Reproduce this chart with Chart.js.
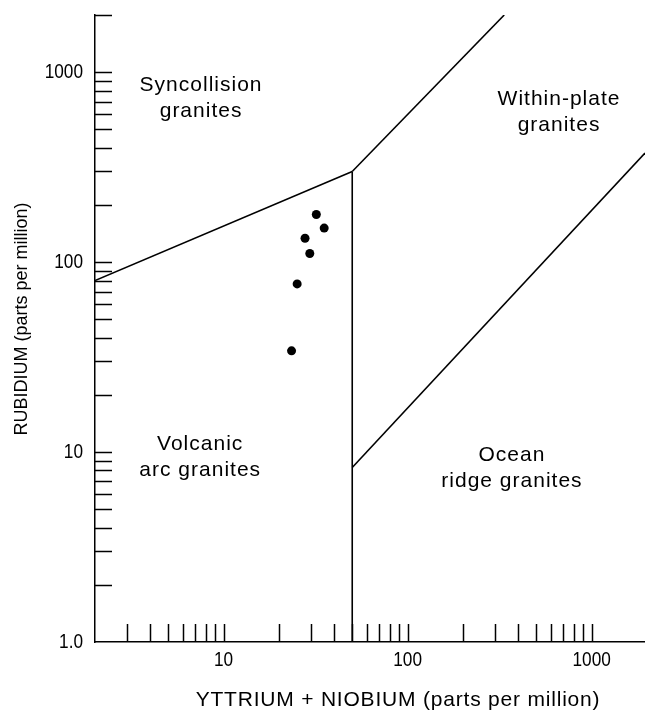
<!DOCTYPE html>
<html>
<head>
<meta charset="utf-8">
<script src="https://cdn.jsdelivr.net/npm/chart.js@4"></script>
<style>
  html, body { margin: 0; padding: 0; background: #fff; }
  #wrap { width: 645px; height: 711px; position: relative; }
</style>
</head>
<body>
<div id="wrap"><canvas id="rbChart"></canvas></div>
<script>
// Rb vs (Y + Nb) granite discrimination diagram, log-log

// --- samples ---
const sampleYNb = [31.9, 35.2, 27.7, 29.4, 25.1, 23.4];
const sampleRb  = [178, 151, 133.5, 111, 76.8, 34.1];

// --- field boundaries, [Y+Nb, Rb] pairs ---
const syncolVagLine = [[2, 80], [50, 300]];
const syncolWpgLine = [[50, 300], [335, 2000]];
const vagOrgLine    = [[50, 1], [50, 300]];
const wpgOrgLine    = [[50, 8.3], [1950, 375]];

// --- axes ---
const xRange = [2, 1950];
const yRange = [1, 2000];
const xLabelTicks = [10, 100, 1000];
const yLabelTicks = [1, 10, 100, 1000];
const xTickMarks = [3, 4, 5, 6, 7, 8, 9, 10, 20, 30, 40, 50, 60, 70, 80, 90, 100,
                    200, 300, 400, 500, 600, 700, 800, 900, 1000];
const yTickMarks = [2, 3, 4, 5, 6, 7, 8, 9, 10, 20, 30, 40, 50, 60, 70, 80, 90, 100,
                    200, 300, 400, 500, 600, 700, 800, 900, 1000, 2000];

// --- field names (anchored at Y+Nb, Rb) ---
const fieldNames = [
  { lines: ['Syncollision', 'granites'], x: 7.54, y: 728 },
  { lines: ['Within-plate', 'granites'], x: 665, y: 618 },
  { lines: ['Volcanic', 'arc granites'], x: 7.46, y: 9.42 },
  { lines: ['Ocean', 'ridge granites'], x: 369, y: 8.25 }
];
const xTitle = 'YTTRIUM + NIOBIUM (parts per million)';
const yTitle = 'RUBIDIUM (parts per million)';

const INK = '#000';
const plain = '"Liberation Sans", Arial, sans-serif';

const toPts = arr => arr.map(([x, y]) => ({ x, y }));
const boundary = arr => ({
  data: toPts(arr), showLine: true, borderColor: INK, borderWidth: 1.6,
  pointRadius: 0, fill: false, tension: 0
});
const tickText = v => v === 1 ? '1.0' : String(v);

// condensed label: the original uses a narrow face
function narrowText(ctx, text, x, y, align) {
  ctx.save();
  ctx.translate(x, y);
  ctx.scale(0.82, 1);
  ctx.textAlign = align;
  ctx.fillText(text, 0, 0);
  ctx.restore();
}

const overlay = {
  id: 'overlay',
  afterDatasetsDraw(chart) {
    const { ctx, chartArea: a, scales: { x, y } } = chart;
    ctx.save();
    ctx.strokeStyle = INK;
    ctx.lineWidth = 1.5;
    ctx.beginPath();
    xTickMarks.forEach(v => {
      const px = Math.round(x.getPixelForValue(v)) + 0.5;
      ctx.moveTo(px, a.bottom);
      ctx.lineTo(px, a.bottom - 18);
    });
    yTickMarks.forEach(v => {
      const py = Math.round(y.getPixelForValue(v)) + 0.5;
      ctx.moveTo(a.left, py);
      ctx.lineTo(a.left + 17, py);
    });
    ctx.stroke();

    // tick labels
    ctx.fillStyle = INK;
    ctx.font = '21px ' + plain;
    ctx.textBaseline = 'middle';
    xLabelTicks.forEach(v => narrowText(ctx, tickText(v), x.getPixelForValue(v), a.bottom + 18, 'center'));
    yLabelTicks.forEach(v => narrowText(ctx, tickText(v), a.left - 12, y.getPixelForValue(v), 'right'));

    // field names
    ctx.font = '21px ' + plain;
    if ('letterSpacing' in ctx) ctx.letterSpacing = '1px';
    ctx.textAlign = 'center';
    fieldNames.forEach(f => {
      const cx = x.getPixelForValue(f.x);
      const cy = y.getPixelForValue(f.y);
      f.lines.forEach((t, i) => {
        ctx.fillText(t, cx, cy + (i - (f.lines.length - 1) / 2) * 26);
      });
    });

    // axis titles
    ctx.letterSpacing = '0.8px';
    ctx.fillText(xTitle, 398, 700);
    ctx.letterSpacing = '0px';
    ctx.font = '18px ' + plain;
    ctx.translate(22, 319);
    ctx.rotate(-Math.PI / 2);
    ctx.fillText(yTitle, 0, 0);
    ctx.restore();
  }
};

const noPad = s => { s.paddingTop = 0; s.paddingBottom = 0; s.paddingLeft = 0; s.paddingRight = 0; };

new Chart(document.getElementById('rbChart'), {
  type: 'scatter',
  data: {
    datasets: [
      boundary(syncolVagLine),
      boundary(syncolWpgLine),
      boundary(vagOrgLine),
      boundary(wpgOrgLine),
      {
        data: sampleYNb.map((v, i) => ({ x: v, y: sampleRb[i] })),
        pointRadius: 4.5, pointBackgroundColor: INK, pointBorderWidth: 0,
        showLine: false
      }
    ]
  },
  options: {
    responsive: true,
    maintainAspectRatio: false,
    animation: false,
    layout: { autoPadding: false, padding: { top: 15, left: 0, right: 0, bottom: 0 } },
    plugins: { legend: { display: false }, tooltip: { enabled: false } },
    scales: {
      x: {
        type: 'logarithmic', position: 'bottom',
        min: xRange[0], max: xRange[1],
        grid: { display: false },
        border: { display: true, color: INK, width: 1.5 },
        ticks: { display: false },
        afterBuildTicks: s => { s.ticks = xLabelTicks.map(v => ({ value: v })); },
        afterFit: s => { s.height = 69; noPad(s); }
      },
      y: {
        type: 'logarithmic', position: 'left',
        min: yRange[0], max: yRange[1],
        grid: { display: false },
        border: { display: true, color: INK, width: 1.5 },
        ticks: { display: false },
        afterBuildTicks: s => { s.ticks = yLabelTicks.map(v => ({ value: v })); },
        afterFit: s => { s.width = 95; noPad(s); }
      }
    }
  },
  plugins: [overlay]
});
</script>
</body>
</html>
